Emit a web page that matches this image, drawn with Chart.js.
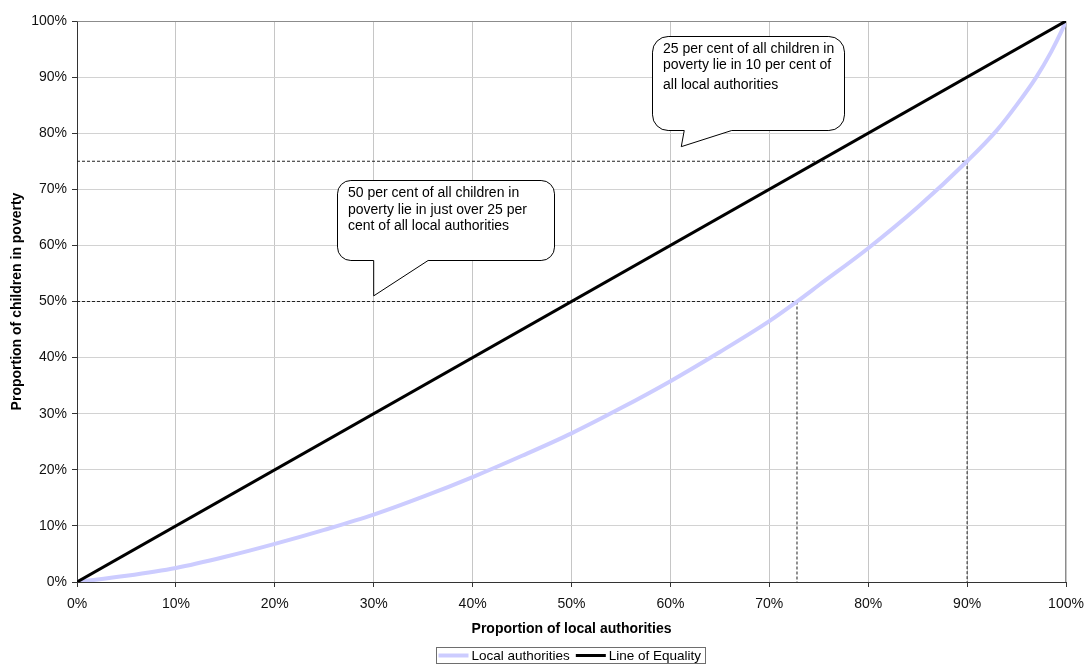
<!DOCTYPE html>
<html>
<head>
<meta charset="utf-8">
<script src="https://cdn.jsdelivr.net/npm/chart.js@4.4.1/dist/chart.umd.min.js"></script>
<style>
  html, body { margin: 0; padding: 0; background: #fff; }
  canvas { display: block; }
</style>
</head>
<body>
<canvas id="lorenz" width="1085" height="664"></canvas>
<script>
// Cumulative share of local authorities (%) and of children in poverty (%)
const laShare    = [0, 5, 10, 15, 20, 25, 30, 35, 40, 45, 50, 55, 60, 65, 70, 72.8, 75, 80, 85, 90, 93, 95, 97, 98.5, 99.5, 100];
const childShare = [0, 1.1, 2.5, 4.5, 6.8, 9.3, 12.0, 15.2, 18.7, 22.5, 26.5, 31.0, 35.8, 41.0, 46.5, 50.0, 52.9, 59.5, 66.8, 75.0, 80.5, 85.0, 90.0, 94.5, 98.0, 100];

// Line of equality
const equalityX = [0, 100];
const equalityY = [0, 100];

// Reference guides: 50% of children and 75% of children
const guide50X = [0, 72.8, 72.8];
const guide50Y = [50, 50, 0];
const guide75X = [0, 90, 90];
const guide75Y = [75, 75, 0];

// Axis ticks (percent)
const tickStep = 10;
const axisMin = 0;
const axisMax = 100;

const seriesNames = ['Local authorities', 'Line of Equality'];

const calloutTexts = [
  ['50 per cent of all children in', 'poverty lie in just over 25 per', 'cent of all local authorities'],
  ['25 per cent of all children in', 'poverty lie in 10 per cent of', 'all local authorities']
];

const FONT = '"Liberation Sans", Arial, Helvetica, sans-serif';
const zip = (xs, ys) => xs.map((x, i) => ({ x, y: ys[i] }));

// Callout boxes, placed in axis units
const callouts = [
  { text: calloutTexts[0], left: 26.3, right: 48.2, top: 71.7, bottom: 57.4,
    tailFrom: 30.0, tailTo: 35.5, tipX: 30.0, tipY: 51.0, lineOffsets: [12.7, 29.2, 45.5] },
  { text: calloutTexts[1], left: 58.1, right: 77.6, top: 97.4, bottom: 80.5,
    tailFrom: 61.4, tailTo: 66.2, tipX: 61.1, tipY: 77.6, lineOffsets: [12.3, 29.0, 49.0] }
];

const calloutPlugin = {
  id: 'callouts',
  afterDatasetsDraw(chart) {
    const { ctx, scales: { x, y } } = chart;
    ctx.save();
    for (const c of callouts) {
      const L = Math.round(x.getPixelForValue(c.left)) + 0.5;
      const R = Math.round(x.getPixelForValue(c.right)) + 0.5;
      const T = Math.round(y.getPixelForValue(c.top)) + 0.5;
      const B = Math.round(y.getPixelForValue(c.bottom)) + 0.5;
      const bl = x.getPixelForValue(c.tailFrom);
      const br = x.getPixelForValue(c.tailTo);
      const tx = x.getPixelForValue(c.tipX);
      const ty = y.getPixelForValue(c.tipY);
      const r = Math.min(R - L, B - T) * 0.1667;
      ctx.beginPath();
      ctx.moveTo(L + r, T);
      ctx.arcTo(R, T, R, T + r, r);
      ctx.arcTo(R, B, R - r, B, r);
      ctx.lineTo(br, B);
      ctx.lineTo(tx, ty);
      ctx.lineTo(bl, B);
      ctx.arcTo(L, B, L, B - r, r);
      ctx.arcTo(L, T, L + r, T, r);
      ctx.closePath();
      ctx.fillStyle = '#ffffff';
      ctx.fill();
      ctx.lineWidth = 1;
      ctx.strokeStyle = '#000000';
      ctx.stroke();
      ctx.fillStyle = '#000000';
      ctx.font = '14px ' + FONT;
      ctx.textAlign = 'left';
      ctx.textBaseline = 'middle';
      c.text.forEach((line, i) => ctx.fillText(line, L + 10.5, T + c.lineOffsets[i]));
    }
    ctx.restore();
  }
};

// Grey frame on the top and right of the plot area
const framePlugin = {
  id: 'frame',
  beforeDatasetsDraw(chart) {
    const { ctx, chartArea: a } = chart;
    ctx.save();
    ctx.strokeStyle = '#8c8c8c';
    ctx.lineWidth = 1;
    ctx.beginPath();
    ctx.moveTo(Math.round(a.left) + 0.5, Math.round(a.top) + 0.5);
    ctx.lineTo(Math.round(a.right) - 0.5, Math.round(a.top) + 0.5);
    ctx.lineTo(Math.round(a.right) - 0.5, Math.round(a.bottom));
    ctx.stroke();
    ctx.restore();
  }
};

// Boxed legend below the axis title
const legendPlugin = {
  id: 'boxedLegend',
  afterDraw(chart) {
    const { ctx, chartArea: a } = chart;
    const items = chart.data.datasets.filter(d => d.showInLegend);
    ctx.save();
    ctx.font = '13.5px ' + FONT;
    const sample = 30, gap = 3, itemGap = 6, padL = 2, padR = 4;
    const widths = items.map(d => ctx.measureText(d.label).width);
    const total = padL + padR + widths.reduce((s, w) => s + sample + gap + w, 0) + itemGap * (items.length - 1);
    const cx = (a.left + a.right) / 2 - 1.5;
    let left = Math.round(cx - total / 2) + 0.5;
    const top = 647.5, height = 16;
    const mid = top + height / 2;
    ctx.strokeStyle = '#6e6e6e';
    ctx.lineWidth = 1;
    ctx.strokeRect(left, top, Math.round(total), height);
    let xPos = left + padL;
    items.forEach((d, i) => {
      ctx.strokeStyle = d.borderColor;
      ctx.lineWidth = d.borderWidth;
      ctx.beginPath();
      ctx.moveTo(xPos, mid);
      ctx.lineTo(xPos + sample, mid);
      ctx.stroke();
      xPos += sample + gap;
      ctx.fillStyle = '#000';
      ctx.textAlign = 'left';
      ctx.textBaseline = 'middle';
      ctx.fillText(d.label, xPos, mid + 0.5);
      xPos += widths[i] + itemGap;
    });
    ctx.restore();
  }
};

const pct = v => v + '%';

new Chart(document.getElementById('lorenz'), {
  type: 'line',
  data: {
    datasets: [
      { label: 'guide50', data: zip(guide50X, guide50Y), borderColor: '#222', borderWidth: 1,
        borderDash: [3, 2], pointRadius: 0, tension: 0, order: 3 },
      { label: 'guide75', data: zip(guide75X, guide75Y), borderColor: '#222', borderWidth: 1,
        borderDash: [3, 2], pointRadius: 0, tension: 0, order: 3 },
      { label: seriesNames[0], data: zip(laShare, childShare), borderColor: '#ccccff', borderWidth: 4,
        pointRadius: 0, cubicInterpolationMode: 'monotone', showInLegend: true, order: 2 },
      { label: seriesNames[1], data: zip(equalityX, equalityY), borderColor: '#000000', borderWidth: 3,
        pointRadius: 0, tension: 0, showInLegend: true, order: 1 }
    ]
  },
  options: {
    responsive: false,
    animation: false,
    events: [],
    layout: { padding: { top: 21, right: 19, bottom: 0, left: 0 } },
    plugins: { legend: { display: false }, tooltip: { enabled: false } },
    scales: {
      x: {
        type: 'linear', min: axisMin, max: axisMax,
        ticks: { stepSize: tickStep, callback: pct, color: '#111', padding: 9, maxRotation: 0,
                 font: { family: FONT, size: 14 } },
        grid: { color: '#c6c6c6', tickColor: '#333', tickLength: 5, lineWidth: 1 },
        border: { color: '#333', width: 1 },
        title: { display: true, text: 'Proportion of local authorities', color: '#000',
                 font: { family: FONT, size: 14, weight: 'bold' }, padding: { top: 0, bottom: 26 } },
        afterFit(scale) {
          scale.height = 82;
          scale.paddingLeft = 0;
          scale.paddingRight = 0;
        }
      },
      y: {
        type: 'linear', min: axisMin, max: axisMax,
        ticks: { stepSize: tickStep, callback: pct, color: '#111', padding: 5,
                 font: { family: FONT, size: 14 } },
        grid: { color: '#d2d2d2', tickColor: '#333', tickLength: 5, lineWidth: 1 },
        border: { color: '#333', width: 1 },
        title: { display: true, text: 'Proportion of children in poverty', color: '#000',
                 font: { family: FONT, size: 14, weight: 'bold' }, padding: { top: 9, bottom: 0 } },
        afterFit(scale) {
          scale.width = 77;
          scale.paddingTop = 0;
          scale.paddingBottom = 0;
        }
      }
    }
  },
  plugins: [framePlugin, calloutPlugin, legendPlugin]
});
</script>
</body>
</html>
